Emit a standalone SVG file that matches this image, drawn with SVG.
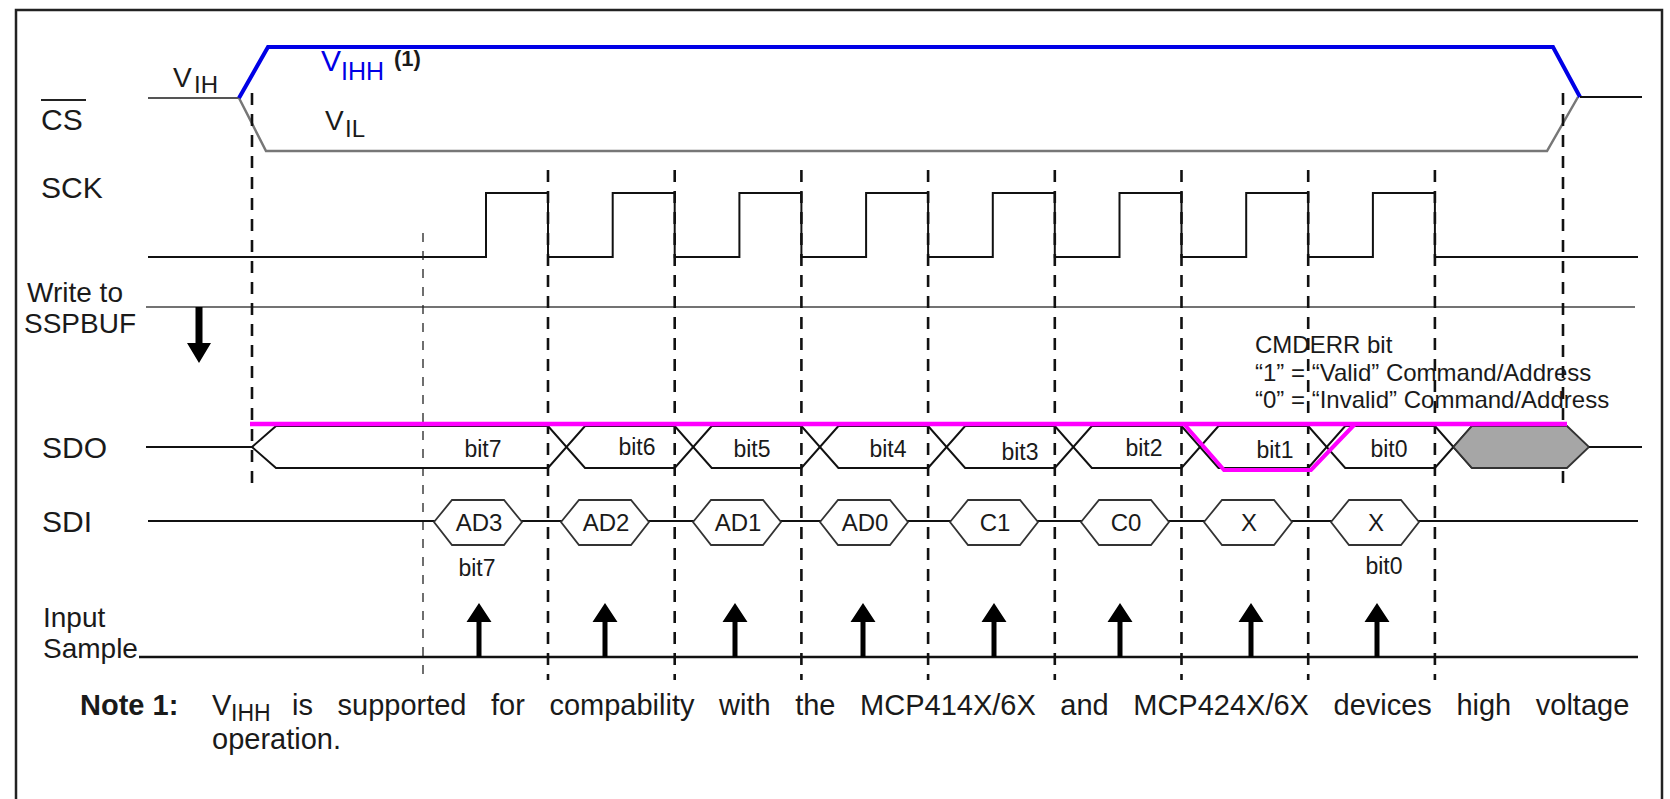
<svg xmlns="http://www.w3.org/2000/svg" xmlns:xlink="http://www.w3.org/1999/xlink" width="1670" height="799" viewBox="0 0 1670 799">
<style>
text{font-family:"Liberation Sans",Arial,sans-serif;fill:#1a1a1a}
.lbl{font-size:30px}
.lbl2{font-size:28px}
.sub{font-size:24px}
.bit{font-size:23px}
.hx{font-size:24px}
.note{font-size:29px}
.sig{fill:none;stroke:#111;stroke-width:2}
.dash{fill:none;stroke:#111;stroke-width:2.6;stroke-dasharray:12 9}
.thin{fill:none;stroke:#222;stroke-width:1.3;stroke-dasharray:9 9}
.hexs{fill:#fff;stroke:#333;stroke-width:1.8}
</style>
<defs>
<path id="up" d="M-2.5,657 V622 H-12.5 L0,603 L12.5,622 H2.5 V657 Z" fill="#000"/>
<polygon id="hex" points="-44,0 -26,-22 26,-22 44,0 26,23 -26,23"/>
</defs>
<rect width="1670" height="799" fill="#fff"/>
<path d="M16,799 V10 H1662 V799" fill="none" stroke="#222" stroke-width="2.5"/>

<g id="labels">
<text class="lbl" x="41" y="130">CS</text>
<line x1="41" y1="100" x2="86" y2="100" stroke="#222" stroke-width="2"/>
<text class="lbl" x="41" y="198">SCK</text>
<text class="lbl2" x="27" y="302">Write to</text>
<text class="lbl2" x="24" y="333">SSPBUF</text>
<text class="lbl" x="42" y="458">SDO</text>
<text class="lbl" x="42" y="532">SDI</text>
<text class="lbl2" x="43" y="627">Input</text>
<text class="lbl2" x="43" y="658">Sample</text>
</g>

<g id="cs">
<path d="M148,98 H239" fill="none" stroke="#555" stroke-width="2.2"/>
<path d="M239,98 L266,151 H1547 L1578,97" fill="none" stroke="#777" stroke-width="2.5"/>
<path d="M239,98 L268,47 H1553 L1580,97" fill="none" stroke="#0000e6" stroke-width="4"/>
<path d="M1580,97 H1642" fill="none" stroke="#111" stroke-width="2.2"/>
<text x="173" y="87" style="font-size:28px">V</text>
<text class="sub" x="194" y="93">IH</text>
<text x="321" y="71" style="font-size:30px;fill:#0000e6">V</text>
<text x="341" y="80" style="font-size:25px;fill:#0000e6">IHH</text>
<text x="394" y="66" style="font-size:22px;font-weight:bold">(1)</text>
<text x="325" y="130" style="font-size:28px">V</text>
<text class="sub" x="345" y="137">IL</text>
</g>

<g id="sck">
<path class="sig" d="M148,257 H486 V193 H548 V257 H612.7 V193 H674.7 V257 H739.4 V193 H801.4 V257 H866.1 V193 H928.1 V257 H992.8 V193 H1054.8 V257 H1119.5 V193 H1181.5 V257 H1246.2 V193 H1308.2 V257 H1372.9 V193 H1434.9 V257 H1638"/>
</g>

<g id="write">
<path d="M146,307 H1635" fill="none" stroke="#444" stroke-width="1.6"/>
<path d="M195.5,307 H202.5 V343 H211 L199,363 L187,343 H195.5 Z" fill="#000"/>
</g>

<g id="connectors">
<line class="dash" x1="252" y1="93" x2="252" y2="488"/>
<line class="dash" x1="1563" y1="93" x2="1563" y2="490"/>
<line class="thin" x1="423" y1="233" x2="423" y2="680"/>
<line class="dash" x1="548" y1="170" x2="548" y2="680"/>
<line class="dash" x1="674.7" y1="170" x2="674.7" y2="680"/>
<line class="dash" x1="801.4" y1="170" x2="801.4" y2="680"/>
<line class="dash" x1="928.1" y1="170" x2="928.1" y2="680"/>
<line class="dash" x1="1054.8" y1="170" x2="1054.8" y2="680"/>
<line class="dash" x1="1181.5" y1="170" x2="1181.5" y2="680"/>
<line class="dash" x1="1308.2" y1="170" x2="1308.2" y2="680"/>
<line class="dash" x1="1434.9" y1="170" x2="1434.9" y2="680"/>
</g>

<g id="sdo">
<path d="M146,447 H252" fill="none" stroke="#111" stroke-width="1.8"/>
<path class="sig" d="M252,447 L276,426 H548 L585,468 H674.7 L711.7,426 H801.4 L838.4,468 H928.1 L965.1,426 H1054.8 L1091.8,468 H1181.5 L1218.5,426 H1308.2 L1345.2,468 H1434.9 L1472,426"/>
<path class="sig" d="M252,447 L276,468 H548 L585,426 H674.7 L711.7,468 H801.4 L838.4,426 H928.1 L965.1,468 H1054.8 L1091.8,426 H1181.5 L1218.5,468 H1308.2 L1345.2,426 H1434.9 L1472,468"/>
<polygon points="1453.5,447 1472,426 1567,426 1589,447 1567,468 1472,468" fill="#a6a6a6" stroke="#333" stroke-width="1.8"/>
<path d="M1589,447 H1642" fill="none" stroke="#111" stroke-width="1.8"/>
<path d="M250,424 H1567" fill="none" stroke="#ff00ff" stroke-width="4.5"/>
<path d="M1184,424 L1224,470 H1311 L1355,424" fill="none" stroke="#ff00ff" stroke-width="4"/>
<g class="bit" text-anchor="middle">
<text x="483" y="457">bit7</text>
<text x="637" y="455">bit6</text>
<text x="752" y="457">bit5</text>
<text x="888" y="457">bit4</text>
<text x="1020" y="460">bit3</text>
<text x="1144" y="456">bit2</text>
<text x="1275" y="458">bit1</text>
<text x="1389" y="457">bit0</text>
</g>
<text x="1255" y="353" style="font-size:24px">CMDERR bit</text>
<text x="1255" y="381" style="font-size:24px">“1” = “Valid” Command/Address</text>
<text x="1255" y="408" style="font-size:24px">“0” = “Invalid” Command/Address</text>
</g>

<g id="sdi">
<path d="M148,521 H1638" fill="none" stroke="#111" stroke-width="1.8"/>
<use href="#hex" class="hexs" transform="translate(478,522)"/>
<use href="#hex" class="hexs" transform="translate(605,522)"/>
<use href="#hex" class="hexs" transform="translate(737,522)"/>
<use href="#hex" class="hexs" transform="translate(864,522)"/>
<use href="#hex" class="hexs" transform="translate(994,522)"/>
<use href="#hex" class="hexs" transform="translate(1125,522)"/>
<use href="#hex" class="hexs" transform="translate(1248,522)"/>
<use href="#hex" class="hexs" transform="translate(1375,522)"/>
<g class="hx" text-anchor="middle">
<text x="479" y="531">AD3</text>
<text x="606" y="531">AD2</text>
<text x="738" y="531">AD1</text>
<text x="865" y="531">AD0</text>
<text x="995" y="531">C1</text>
<text x="1126" y="531">C0</text>
<text x="1249" y="531">X</text>
<text x="1376" y="531">X</text>
</g>
<text class="bit" x="477" y="576" text-anchor="middle">bit7</text>
<text class="bit" x="1384" y="574" text-anchor="middle">bit0</text>
</g>

<g id="input-sample">
<path d="M139,657 H1638" fill="none" stroke="#111" stroke-width="2.5"/>
<use href="#up" transform="translate(479,0)"/>
<use href="#up" transform="translate(605,0)"/>
<use href="#up" transform="translate(735,0)"/>
<use href="#up" transform="translate(863,0)"/>
<use href="#up" transform="translate(994,0)"/>
<use href="#up" transform="translate(1120,0)"/>
<use href="#up" transform="translate(1251,0)"/>
<use href="#up" transform="translate(1377,0)"/>
</g>

<g id="note">
<text class="note" x="80" y="715" font-weight="bold">Note 1:</text>
<text class="note" x="212" y="715">V</text>
<text x="231" y="721" style="font-size:23px">IHH</text>
<text class="note" x="292" y="715" word-spacing="16.5">is supported for compability with the MCP414X/6X and MCP424X/6X devices high voltage</text>
<text class="note" x="212" y="749">operation.</text>
</g>
</svg>
